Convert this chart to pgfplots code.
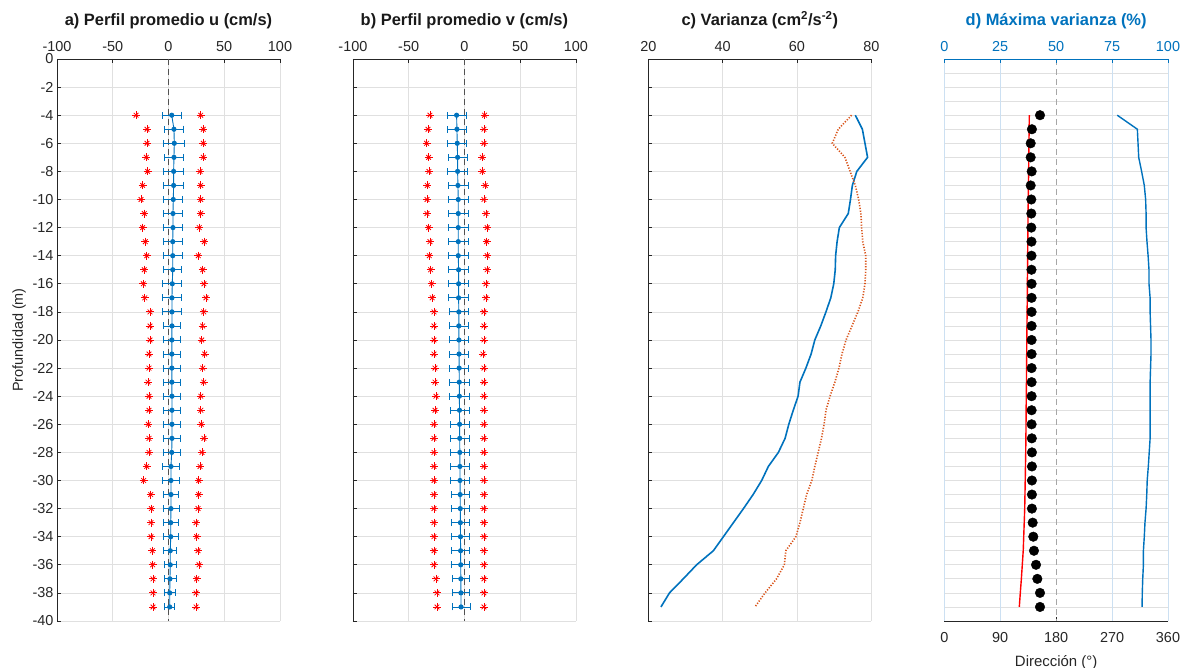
\documentclass[border=0pt]{standalone}
\usepackage{fontspec}
\setmainfont{Liberation Sans}
\usepackage{pgfplots}
\usepackage{pgfplotstable}
\pgfplotsset{compat=1.18}

\definecolor{mblue}{rgb}{0,0.447,0.741}
\definecolor{morange}{rgb}{0.85,0.325,0.098}
\definecolor{axgray}{rgb}{0.15,0.15,0.15}
\definecolor{gridgray}{rgb}{0.88,0.88,0.88}
\definecolor{lblue}{rgb}{0.80,0.88,0.95}

% depth (m), mean, std, min, max
\pgfplotstableread{
d    m     e    lo     hi
-4   2.9   8.7  -29.1  28.9
-5   4.9   8.8  -19.3  31.2
-6   5.2   9.4  -19.3  31.2
-7   4.9   8.8  -19.9  31.2
-8   4.6   8.8  -18.7  28.3
-9   4.6   8.8  -23.2  28.9
-10  4.3   8.5  -24.7  28.9
-11  4.0   8.5  -21.7  28.9
-12  4.0   8.5  -23.2  27.6
-13  3.8   8.5  -20.8  32.1
-14  3.8   8.3  -19.5  26.7
-15  3.8   8.1  -21.7  30.7
-16  3.4   8.5  -22.6  31.8
-17  3.1   8.2  -21.3  33.6
-18  3.1   8.2  -16.6  31.6
-19  3.1   8.0  -16.6  30.7
-20  3.0   8.0  -16.6  29.8
-21  3.0   8.0  -17.5  32.5
-22  3.0   8.0  -17.5  30.7
-23  3.0   8.0  -18.4  31.6
-24  3.1   8.0  -17.5  29.0
-25  3.1   7.8  -17.5  29.0
-26  3.1   7.8  -18.1  29.4
-27  3.1   7.5  -17.5  31.8
-28  2.9   7.5  -17.5  30.0
-29  2.2   7.5  -19.6  28.3
-30  2.2   7.5  -22.3  27.1
-31  2.2   6.7  -16.0  27.1
-32  2.2   7.2  -15.4  26.5
-33  2.0   6.6  -15.7  24.7
-34  2.0   6.6  -15.7  25.3
-35  1.6   5.8  -14.5  26.5
-36  1.6   5.5  -14.2  27.4
-37  1.3   5.4  -13.9  25.3
-38  1.1   5.2  -13.9  24.7
-39  1.1   4.6  -13.9  24.7
}\tabU

\pgfplotstableread{
d    m     e    lo     hi
-4   -7.0  8.5  -30.9  18.1
-5   -6.7  8.2  -32.7  17.5
-6   -6.4  8.5  -33.9  17.5
-7   -6.1  8.5  -32.1  16.0
-8   -6.1  8.8  -31.8  16.0
-9   -5.8  9.0  -33.3  18.6
-10  -5.5  9.0  -33.6  17.5
-11  -5.5  9.0  -33.6  19.3
-12  -5.5  9.0  -32.1  20.4
-13  -5.5  9.0  -30.9  19.9
-14  -5.5  9.0  -31.5  20.4
-15  -5.2  9.0  -30.3  20.4
-16  -5.2  9.0  -29.4  19.3
-17  -5.2  9.0  -28.9  19.3
-18  -5.0  8.9  -27.3  17.5
-19  -5.0  8.9  -27.3  17.5
-20  -4.9  8.8  -27.3  17.5
-21  -4.8  8.8  -27.3  16.6
-22  -4.7  8.7  -26.4  17.5
-23  -4.6  8.7  -26.4  17.5
-24  -4.5  8.6  -25.5  17.5
-25  -4.4  8.6  -26.4  17.5
-26  -4.3  8.5  -27.3  17.5
-27  -4.2  8.5  -27.3  17.5
-28  -4.1  8.4  -27.3  17.5
-29  -4.0  8.4  -27.3  17.5
-30  -3.9  8.3  -27.3  17.5
-31  -3.8  8.3  -27.3  17.5
-32  -3.7  8.2  -27.3  17.5
-33  -3.6  8.2  -27.3  17.5
-34  -3.5  8.1  -27.3  17.5
-35  -3.4  8.1  -27.3  17.5
-36  -3.3  8.0  -27.3  17.5
-37  -3.2  8.0  -25.5  17.5
-38  -3.1  8.0  -24.6  17.5
-39  -3.0  8.0  -24.6  17.5
}\tabV

% variance of u and v
\pgfplotstableread{
d    vu    vv
-4   75.7  74.7
-5   77.6  71.1
-6   78.3  69.5
-7   79.0  72.9
-8   76.1  74.3
-9   74.9  75.7
-10  74.4  76.6
-11  73.8  77.2
-12  71.4  77.4
-13  70.8  77.7
-14  70.4  78.5
-15  70.3  78.5
-16  69.9  78.3
-17  69.1  77.7
-18  67.8  76.4
-19  66.4  74.8
-20  64.8  73.2
-21  63.8  72.1
-22  62.4  71.3
-23  60.8  70.2
-24  60.3  68.9
-25  59.0  67.8
-26  57.8  67.3
-27  56.8  66.6
-28  55.0  65.7
-29  52.3  64.8
-30  50.5  64.0
-31  48.2  62.6
-32  45.6  61.7
-33  42.9  60.8
-34  40.2  59.7
-35  37.5  57.0
-36  33.0  56.6
-37  29.4  54.5
-38  25.7  51.4
-39  23.4  48.7
}\tabVar

% direction of maximum variance (deg), fitted direction (deg), explained variance (%)
\pgfplotstableread{
d    dir    fit    pct
-4   154.0  136.8  77.3
-5   141.0  136.5  86.3
-6   139.0  136.2  86.6
-7   139.0  136.0  86.9
-8   140.6  135.7  88.2
-9   139.0  135.4  89.4
-10  140.0  135.1  90.0
-11  140.0  134.8  90.2
-12  140.0  134.6  90.2
-13  140.3  134.4  90.6
-14  140.3  134.1  91.1
-15  140.3  133.9  91.5
-16  140.5  133.7  91.5
-17  140.5  133.5  92.0
-18  140.5  133.3  92.0
-19  140.5  133.0  92.2
-20  140.5  132.8  92.4
-21  140.5  132.6  92.4
-22  140.5  132.4  92.2
-23  140.5  132.2  92.0
-24  140.5  131.9  92.0
-25  140.5  131.7  92.0
-26  140.5  131.5  92.0
-27  140.8  131.3  92.0
-28  141.0  131.0  91.6
-29  141.0  130.6  91.2
-30  141.0  130.2  90.7
-31  141.0  129.8  90.5
-32  141.0  129.4  90.2
-33  142.2  128.6  89.7
-34  143.2  127.8  89.4
-35  144.3  127.0  89.0
-36  147.6  125.5  89.0
-37  149.7  124.0  88.7
-38  154.0  122.3  88.5
-39  154.0  120.7  88.4
}\tabDir

\pgfplotsset{
  prof/.style={
    scale only axis, width=223bp, height=562bp,
    anchor=south west,
    ymin=-40, ymax=0, ytick={-40,-38,...,0},
    axis x line*=top, axis y line*=left,
    axis line style={axgray, line width=0.6bp},
    every outer x axis line/.append style={-},
    every outer y axis line/.append style={-},
    tick align=inside, major tick length=4bp,
    tick style={axgray, line width=0.6bp},
    grid=major, major grid style={gridgray, line width=0.7bp},
    ticklabel style={font=\fontsize{14.5}{16}\selectfont, text=axgray},
    xticklabel style={yshift=4bp},
    /pgf/number format/assume math mode=true,
    clip=false,
  },
  ptitle/.style={
    extra description/.code={
      \node[anchor=base, font=\bfseries\fontsize{16.5}{18}\selectfont, text=#1]
        at (0.5,1) [yshift=33bp] {\pgfkeysvalueof{/pgfplots/ptext}};
    }
  },
  /pgfplots/ptext/.initial={},
  % eight-armed star drawn as a plus over a cross
  starA/.style={only marks, red, mark=+, mark size=4bp, line width=0.8bp},
  starB/.style={only marks, red, mark=x, mark size=3.3bp, line width=0.8bp},
  ebar/.style={mblue, line width=0.9bp, mark=*, mark size=2.1bp,
    error bars/.cd, x dir=both, x explicit,
    error bar style={mblue, line width=0.8bp},
    error mark=|,
    error mark options={mblue, mark size=3.5bp, line width=0.8bp}},
}

\begin{document}
\begin{tikzpicture}
\path[use as bounding box] (0,0) rectangle (1186bp,668bp);

% a) mean u profile
\begin{axis}[prof, at={(57bp,47bp)},
  xmin=-100, xmax=100, xtick={-100,-50,...,100},
  ylabel={Profundidad (m)},
  ylabel style={font=\fontsize{14.5}{16}\selectfont, text=axgray},
  ptext={a) Perfil promedio u (cm/s)}, ptitle=black!90]
  \addplot[axgray!80, dash pattern=on 6bp off 4bp, line width=0.7bp] coordinates {(0,0) (0,-40)};
  \addplot[starA] table[x=lo, y=d] {\tabU};
  \addplot[starB] table[x=lo, y=d] {\tabU};
  \addplot[starA] table[x=hi, y=d] {\tabU};
  \addplot[starB] table[x=hi, y=d] {\tabU};
  \addplot[ebar] table[x=m, y=d, x error=e] {\tabU};
\end{axis}

% b) mean v profile
\begin{axis}[prof, at={(352.9bp,47bp)},
  xmin=-100, xmax=100, xtick={-100,-50,...,100}, yticklabels={},
  ptext={b) Perfil promedio v (cm/s)}, ptitle=black!90]
  \addplot[axgray!80, dash pattern=on 6bp off 4bp, line width=0.7bp] coordinates {(0,0) (0,-40)};
  \addplot[starA] table[x=lo, y=d] {\tabV};
  \addplot[starB] table[x=lo, y=d] {\tabV};
  \addplot[starA] table[x=hi, y=d] {\tabV};
  \addplot[starB] table[x=hi, y=d] {\tabV};
  \addplot[ebar] table[x=m, y=d, x error=e] {\tabV};
\end{axis}

% c) variance
\begin{axis}[prof, at={(648.3bp,47bp)},
  xmin=20, xmax=80, xtick={20,40,...,80}, yticklabels={},
  ptext={c) Varianza (cm\textsuperscript{2}/s\textsuperscript{-2})}, ptitle=black!90]
  \addplot[mblue, line width=1.6bp] table[x=vu, y=d] {\tabVar};
  \addplot[morange, line width=1.6bp, dash pattern=on 1.2bp off 1.6bp] table[x=vv, y=d] {\tabVar};
\end{axis}

% d) direction (bottom axis)
\begin{axis}[scale only axis, width=223.7bp, height=562bp, anchor=south west,
  at={(944.3bp,47bp)},
  xmin=0, xmax=360, xtick={0,90,...,360},
  ymin=-40, ymax=0, ytick={-40,-39,...,0}, yticklabels={},
  axis x line*=bottom, axis y line*=left,
  y axis line style={draw=none}, ytick style={draw=none},
  x axis line style={axgray, line width=0.6bp, -},
  xtick style={axgray, line width=0.6bp},
  tick align=inside, major tick length=4bp,
  ymajorgrids, major grid style={gridgray, line width=0.7bp},
  ticklabel style={font=\fontsize{14.5}{16}\selectfont, text=axgray},
  xticklabel style={yshift=-8bp},
  /pgf/number format/assume math mode=true,
  xlabel={Dirección (°)},
  xlabel style={font=\fontsize{15}{17}\selectfont, text=axgray, yshift=-6bp},
  clip=false]
  \addplot[gray!70, dash pattern=on 6bp off 4bp, line width=0.7bp] coordinates {(180,0) (180,-40)};
  \addplot[red, line width=1.4bp] table[x=fit, y=d] {\tabDir};
  \addplot[only marks, black, mark=*, mark size=4.8bp] table[x=dir, y=d] {\tabDir};
\end{axis}

% d) maximum variance (top axis)
\begin{axis}[scale only axis, width=223.7bp, height=562bp, anchor=south west,
  at={(944.3bp,47bp)},
  xmin=0, xmax=100, xtick={0,25,75,100}, extra x ticks={50},
  extra x tick style={grid=none},
  ymin=-40, ymax=0, axis y line=none,
  axis x line*=top,
  x axis line style={mblue, line width=0.6bp, -},
  xtick style={mblue, line width=0.6bp},
  tick align=inside, major tick length=4bp,
  xmajorgrids, major grid style={lblue, line width=0.7bp},
  ticklabel style={font=\fontsize{14.5}{16}\selectfont, text=mblue},
  xticklabel style={yshift=4bp},
  /pgf/number format/assume math mode=true,
  ptext={d) Máxima varianza (\%)}, ptitle=mblue,
  clip=false]
  \addplot[mblue, line width=1.4bp] table[x=pct, y=d] {\tabDir};
\end{axis}
\end{tikzpicture}
\end{document}
